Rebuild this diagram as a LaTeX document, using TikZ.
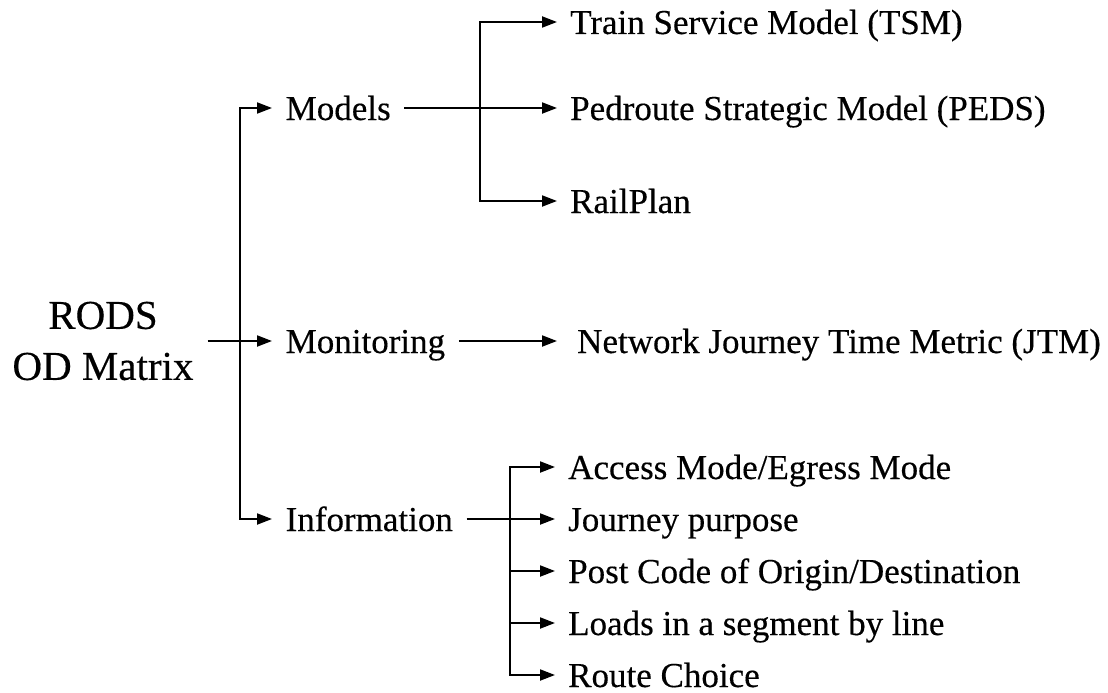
\documentclass[tikz,border=0pt]{standalone}
\usepackage{fontspec}
\setmainfont[FakeBold=0.35]{Liberation Serif}
\usetikzlibrary{arrows.meta}
\begin{document}
\begin{tikzpicture}[x=1pt, y=-1pt,
  conn/.style={line width=2pt, line join=miter, -{Triangle[length=15pt,width=11pt]}},
  rootbox/.style={align=center, font=\fontsize{41}{51}\selectfont, inner xsep=14pt, inner ysep=0pt},
  midbox/.style={anchor=west, font=\fontsize{35}{42}\selectfont,
                 text height=30pt, text depth=6pt, inner ysep=0pt, inner xsep=13.5pt},
  leafbox/.style={midbox, inner xsep=13pt}]
\useasboundingbox (0,0) rectangle (1108,693);

% root
\node[rootbox] (root) at (103,341) {RODS\\OD Matrix};

% first level
\node[midbox] (models) at (272,108) {Models};
\node[midbox] (mon)    at (272,341) {Monitoring};
\node[midbox] (info)   at (272,519) {Information};

% models branch
\node[leafbox] (tsm)  at (557,22)  {Train Service Model (TSM)};
\node[leafbox] (peds) at (557,108) {Pedroute Strategic Model (PEDS)};
\node[leafbox] (rail) at (557,201) {RailPlan};

% monitoring branch
\node[leafbox, inner xsep=20pt] (jtm) at (557,341) {Network Journey Time Metric (JTM)};

% information branch
\node[leafbox] (acc)   at (555,467) {Access Mode/Egress Mode};
\node[leafbox] (jp)    at (555,519) {Journey purpose};
\node[leafbox] (post)  at (555,571) {Post Code of Origin/Destination};
\node[leafbox] (loads) at (555,623) {Loads in a segment by line};
\node[leafbox] (route) at (555,675) {Route Choice};

% branching points
\coordinate (trunk) at (240,341);
\coordinate (mfork) at (480,108);
\coordinate (ifork) at (510,519);

% connectors
\draw[conn] (root.east) -- (mon.west);
\draw[conn] (trunk) |- (models.west);
\draw[conn] (trunk) |- (info.west);

\draw[conn] (models.east) -- (peds.west);
\draw[conn] (mfork) |- (tsm.west);
\draw[conn] (mfork) |- (rail.west);

\draw[conn] (mon.east) -- (jtm.west);

\draw[conn] (info.east) -- (jp.west);
\draw[conn] (ifork) |- (acc.west);
\draw[conn] (ifork) |- (post.west);
\draw[conn] (ifork) |- (loads.west);
\draw[conn] (ifork) |- (route.west);
\end{tikzpicture}
\end{document}
